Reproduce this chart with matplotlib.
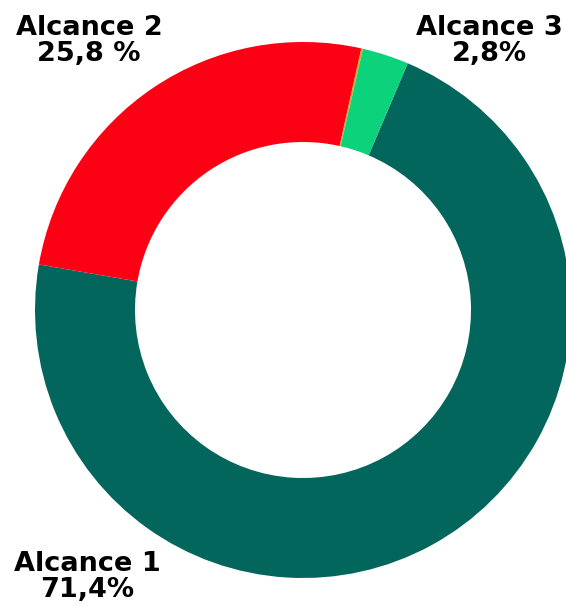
import matplotlib.pyplot as plt

# Emission shares by scope (%)
scopes = ['Alcance 1', 'Alcance 2', 'Otros', 'Alcance 3']
shares = [71.4, 25.8, 0.1, 2.8]
colors = ['#03665c', '#fc0014', '#e0a41c', '#0bd27b']
labels = ['Alcance 1\n71,4%', 'Alcance 2\n25,8 %', 'Alcance 3\n2,8%']

fig = plt.figure(figsize=(5.66, 6.06), dpi=100)
ax = fig.add_axes([0, 0, 1, 1])

# work in pixel-like units so the ring sits where it should
cx, cy, r = 303, 296, 268
ax.pie(shares, colors=colors, radius=r, center=(cx, cy),
       startangle=67, counterclock=False,
       wedgeprops=dict(width=100, linewidth=0))

ax.set_xlim(0, 566)
ax.set_ylim(0, 606)
ax.set_aspect('equal')
ax.axis('off')

style = dict(ha='center', va='center', fontsize=19.5, fontweight='heavy',
             family='DejaVu Sans', linespacing=1.02, color='black')
ax.text(87, 29, labels[0], **style)
ax.text(89, 565, labels[1], **style)
ax.text(489, 565, labels[2], **style)

fig.savefig('out.png', dpi=100)
